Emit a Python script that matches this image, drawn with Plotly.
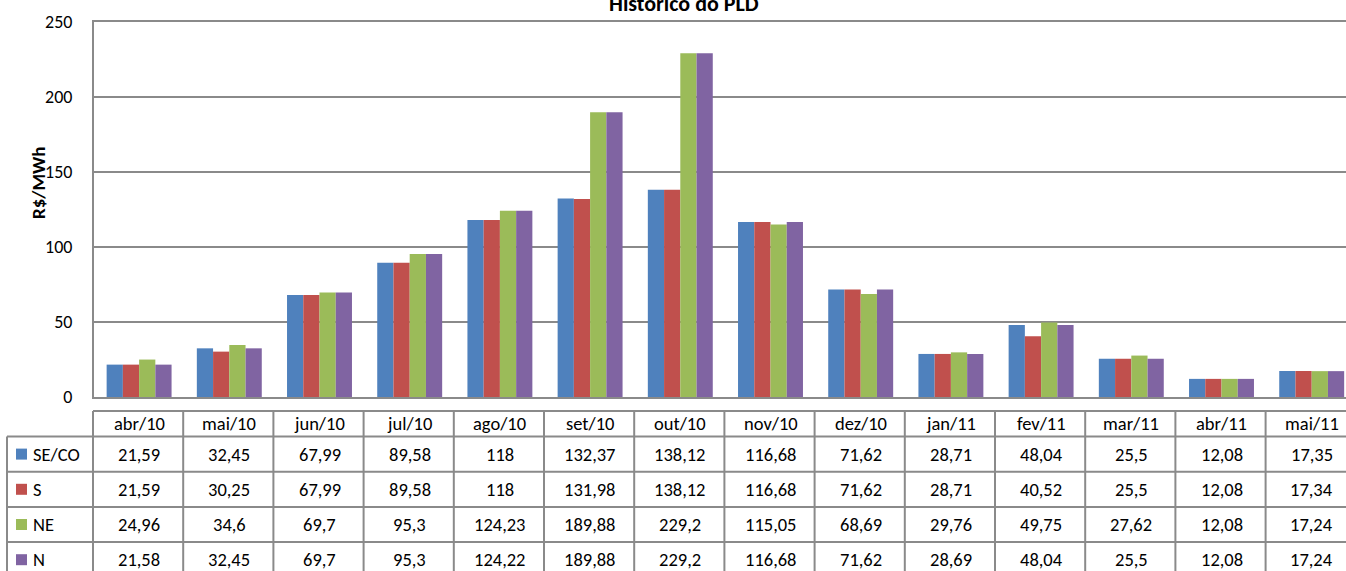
import plotly.graph_objects as go

categories = ["abr/10", "mai/10", "jun/10", "jul/10", "ago/10", "set/10", "out/10",
              "nov/10", "dez/10", "jan/11", "fev/11", "mar/11", "abr/11", "mai/11"]
series_names = ["SE/CO", "S", "NE", "N"]
se_co = [21.59, 32.45, 67.99, 89.58, 118, 132.37, 138.12, 116.68, 71.62, 28.71, 48.04, 25.5, 12.08, 17.35]
s = [21.59, 30.25, 67.99, 89.58, 118, 131.98, 138.12, 116.68, 71.62, 28.71, 40.52, 25.5, 12.08, 17.34]
ne = [24.96, 34.6, 69.7, 95.3, 124.23, 189.88, 229.2, 115.05, 68.69, 29.76, 49.75, 27.62, 12.08, 17.24]
n = [21.58, 32.45, 69.7, 95.3, 124.22, 189.88, 229.2, 116.68, 71.62, 28.69, 48.04, 25.5, 12.08, 17.24]
y_ticks = [0, 50, 100, 150, 200, 250]
colors = ["#4F81BD", "#C0504D", "#9BBB59", "#8064A2"]

all_series = [se_co, s, ne, n]

W, H = 1346, 571
L, T, B = 94, 22, 174
plot_w = W - L
plot_h = H - T - B
cat_w = 90.2
x_max = -0.5 + plot_w / cat_w
FONT = "Carlito, Calibri, Lato, sans-serif"
GRID = "#8a8a8a"
TXT = 18.5

def fmt(v):
    txt = ("%.2f" % v).rstrip("0").rstrip(".")
    return txt.replace(".", ",")

def py2p(py):
    return (H - B - py) / plot_h

def px2p(px):
    return (px - L) / plot_w

fig = go.Figure()
xs = list(range(len(categories)))
for name, vals, col in zip(series_names, all_series, colors):
    fig.add_trace(go.Bar(x=xs, y=vals, name=name, marker=dict(color=col, line=dict(width=0)),
                         hoverinfo="skip"))

shapes = []
annotations = []

head_top, head_bot = 411, 436.5
row_h = 35.2
legend_left = 7
right = W + 5
line = dict(color=GRID, width=2)

def hline(py, x0, x1):
    shapes.append(dict(type="line", xref="paper", yref="paper",
                       x0=px2p(x0), x1=px2p(x1), y0=py2p(py), y1=py2p(py), line=line))

def vline(px, y0, y1):
    shapes.append(dict(type="line", xref="paper", yref="paper",
                       x0=px2p(px), x1=px2p(px), y0=py2p(y0), y1=py2p(y1), line=line))

bottom = head_bot + row_h * len(series_names)
hline(head_top, L - 1, right)
for k in range(len(series_names) + 1):
    hline(head_bot + k * row_h, legend_left, right)
for k in range(len(categories) + 1):
    vline(L - 1 + k * cat_w, head_top, bottom)
vline(legend_left, head_bot, bottom)

for i, c in enumerate(categories):
    annotations.append(dict(x=px2p(L + (i + 0.5) * cat_w), y=py2p((head_top + head_bot) / 2),
                            xref="paper", yref="paper", text=c, showarrow=False,
                            font=dict(size=TXT, color="black", family=FONT), xanchor="center", yanchor="middle"))

for r, (name, vals, col) in enumerate(zip(series_names, all_series, colors)):
    cy = head_bot + (r + 0.5) * row_h
    shapes.append(dict(type="rect", xref="paper", yref="paper",
                       x0=px2p(16), x1=px2p(27), y0=py2p(cy - 5.5), y1=py2p(cy + 5.5),
                       fillcolor=col, line=dict(width=0)))
    annotations.append(dict(x=px2p(31), y=py2p(cy), xref="paper", yref="paper", text=name,
                            showarrow=False, xanchor="left", yanchor="middle",
                            font=dict(size=TXT, color="black", family=FONT)))
    for i, v in enumerate(vals):
        annotations.append(dict(x=px2p(L + (i + 0.5) * cat_w), y=py2p(cy),
                                xref="paper", yref="paper", text=fmt(v), showarrow=False,
                                font=dict(size=TXT, color="black", family=FONT),
                                xanchor="center", yanchor="middle"))

annotations.append(dict(x=px2p(684), y=py2p(3.5), xref="paper", yref="paper",
                        text="<b>Histórico do PLD</b>", showarrow=False, xanchor="center", yanchor="middle",
                        font=dict(size=22, color="black", family=FONT)))
annotations.append(dict(x=px2p(38.5), y=py2p(182.5), xref="paper", yref="paper",
                        text="<b>R$/MWh</b>", showarrow=False, textangle=-90, xanchor="center", yanchor="middle",
                        font=dict(size=19, color="black", family=FONT)))

fig.update_layout(
    width=W, height=H,
    margin=dict(l=L, r=0, t=T, b=B, pad=0),
    barmode="group", bargap=0.28, bargroupgap=0,
    showlegend=False,
    hovermode=False,
    plot_bgcolor="white", paper_bgcolor="white",
    font=dict(family=FONT, size=18, color="black"),
    shapes=shapes, annotations=annotations,
    xaxis=dict(range=[-0.5, x_max], showticklabels=False, ticks="", showgrid=False,
               showline=True, linecolor=GRID, linewidth=2, mirror=True, zeroline=False, fixedrange=True),
    yaxis=dict(range=[0, 250], tickvals=y_ticks, ticktext=[str(v) for v in y_ticks],
               showgrid=True, gridcolor=GRID, gridwidth=2, ticks="", ticklabelstandoff=16,
               showline=True, linecolor=GRID, linewidth=2, zeroline=False, fixedrange=True,
               tickfont=dict(size=18, family=FONT, color="black")),
)

fig.write_html("out.html",
               config={"displayModeBar": False, "staticPlot": True},
               post_script="document.body.style.margin='0';document.body.style.padding='0';"
                           "document.body.style.overflow='hidden';")
